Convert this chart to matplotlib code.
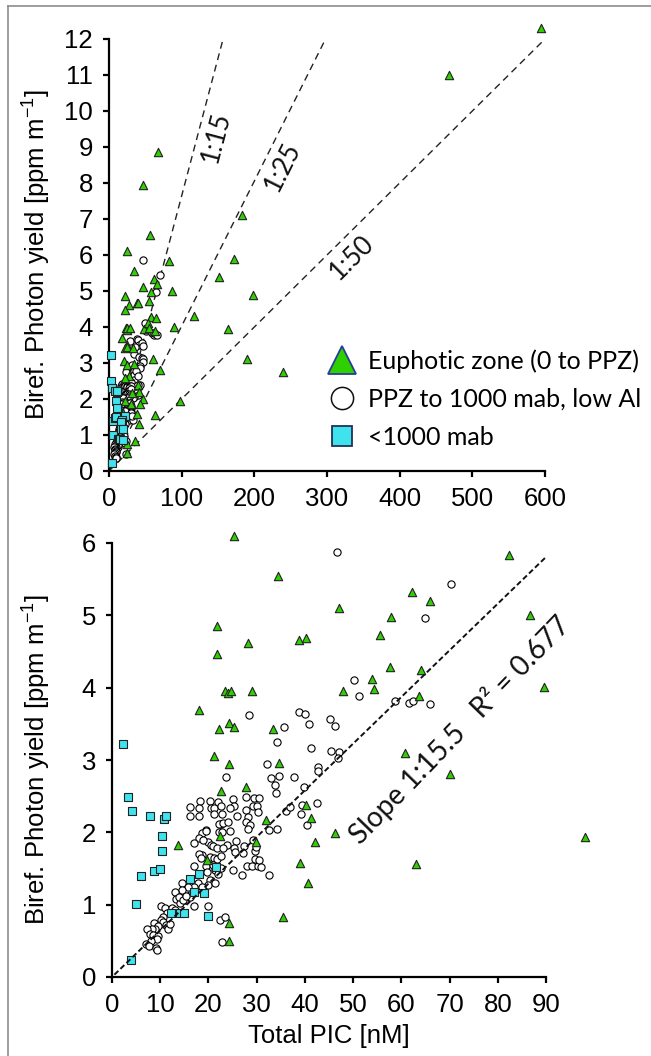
import numpy as np
import matplotlib
matplotlib.use("Agg")
import matplotlib.pyplot as plt
from matplotlib.lines import Line2D
from matplotlib.patches import Rectangle

# ---------------- data ----------------
# Euphotic zone (0 to PPZ)  -> green triangles
euph_x = [25.3, 34.4, 47.0, 21.7, 28.2, 38.8, 40.3, 21.7, 23.5, 24.1, 24.6, 29.0, 47.8, 18.0, 24.3,
          22.2, 25.4, 33.4, 21.2, 24.3, 34.7, 82.4, 62.2, 65.9, 57.9, 86.6, 55.6, 57.7, 64.0, 53.9,
          54.4, 63.6, 89.6, 60.7, 70.0, 46.2, 63.0, 98.1, 27.7, 22.7, 40.2, 41.2, 31.9, 22.3, 42.0,
          13.6, 29.8, 19.7, 38.9, 40.7, 35.5, 24.2, 24.2,
          117, 152, 164, 172, 183, 190, 198, 240, 468, 594, 67, 47, 57]
euph_y = [6.10, 5.55, 5.10, 4.85, 4.62, 4.66, 4.68, 4.46, 3.96, 3.93, 3.96, 3.96, 3.95, 3.69, 3.51,
          3.43, 3.45, 3.43, 3.06, 2.94, 2.96, 5.84, 5.32, 5.20, 4.98, 5.01, 4.73, 4.28, 4.24, 4.12,
          3.98, 3.88, 4.01, 3.10, 2.80, 1.99, 1.56, 1.94, 2.63, 2.57, 2.38, 2.20, 2.17, 1.95, 1.87,
          1.82, 1.87, 1.62, 1.57, 1.30, 0.83, 0.74, 0.50,
          4.3, 5.4, 3.95, 5.9, 7.1, 3.1, 4.9, 2.75, 11.0, 12.3, 8.85, 7.95, 6.55]

# PPZ to 1000 mab, low Al -> open circles
ppz_x = [46.6, 70.3, 65.0, 50.2, 51.2, 58.6, 61.6, 62.5, 66.0,
         28.4, 38.8, 40.1, 40.8, 35.6, 45.2, 46.3, 34.2, 41.3, 45.5, 47.0, 46.9, 32.2, 42.7, 42.8,
         23.7, 32.9, 34.6, 33.8, 37.8, 34.0, 39.8, 42.5, 39.4, 39.1, 40.4, 34.3, 36.1, 37.0, 32.6,
         16.1, 16.1, 18.3, 18.1, 18.1, 20.4, 20.6, 22.0, 21.2, 21.2, 22.6, 22.8, 25.0, 25.2, 24.5,
         27.8, 29.5, 30.4, 29.2, 30.0, 27.7, 26.0, 28.2, 30.2, 22.6, 22.1, 23.1, 24.1, 27.7, 28.6,
         28.2, 22.2, 22.8, 24.5, 19.4, 18.6, 19.5, 19.9, 20.5, 18.0, 18.9, 21.0, 21.8, 23.8, 23.0,
         25.7, 25.4, 25.6, 27.4, 27.1, 29.3, 29.7, 29.8, 25.0, 27.0, 27.9, 29.0, 30.3, 29.7, 32.6,
         18.7, 18.1, 18.4, 17.1, 17.1, 20.3, 21.2, 21.7, 19.5, 19.6, 21.0, 21.4, 21.9, 22.6, 22.6,
         20.3, 20.0, 21.4, 17.9, 18.6, 17.0, 15.8, 16.2, 14.6, 14.5, 13.1, 13.2, 15.1, 16.2, 17.1,
         14.1, 20.0, 10.1, 10.9, 12.4, 13.1, 11.4, 10.6, 10.2, 10.5, 8.7, 9.5, 11.1, 11.7, 12.0,
         9.0, 8.2, 7.2, 7.9, 8.6, 9.6, 9.3, 8.0, 7.1, 7.6, 9.1, 9.3, 22.3, 23.4, 22.9,
         13.8, 14.8, 15.3, 30.5, 31.0]
ppz_y = [5.87, 5.44, 4.96, 4.11, 3.89, 3.82, 3.79, 3.82, 3.77,
         3.62, 3.66, 3.64, 3.50, 3.45, 3.56, 3.47, 3.25, 3.16, 3.13, 3.11, 3.03, 2.95, 2.91, 2.85,
         2.76, 2.75, 2.78, 2.66, 2.77, 2.54, 2.63, 2.40, 2.38, 2.26, 2.10, 2.05, 2.29, 2.35, 2.03,
         2.35, 2.23, 2.43, 2.34, 2.22, 2.43, 2.33, 2.42, 2.33, 2.25, 2.36, 2.26, 2.46, 2.37, 2.33,
         2.49, 2.47, 2.48, 2.37, 2.36, 2.31, 2.23, 2.21, 2.28, 2.12, 2.12, 2.13, 2.14, 2.14, 2.10,
         2.05, 2.01, 2.00, 2.02, 2.03, 1.99, 2.02, 1.87, 1.83, 1.92, 1.89, 1.81, 1.79, 1.83, 1.78,
         1.88, 1.78, 1.73, 1.81, 1.71, 1.89, 1.74, 1.80, 1.48, 1.41, 1.53, 1.53, 1.53, 1.63, 1.41,
         1.69, 1.70, 1.65, 1.85, 1.53, 1.66, 1.64, 1.63, 1.53, 1.45, 1.55, 1.48, 1.42, 1.67, 1.51,
         1.34, 1.27, 1.30, 1.30, 1.24, 1.25, 1.25, 1.13, 1.30, 1.20, 1.17, 1.08, 1.07, 1.11, 0.98,
         1.02, 0.98, 0.98, 0.95, 0.95, 0.93, 0.89, 0.83, 0.79, 0.76, 0.74, 0.71, 0.72, 0.67, 0.73,
         0.66, 0.66, 0.66, 0.60, 0.58, 0.56, 0.53, 0.50, 0.46, 0.43, 0.40, 0.37, 0.79, 0.83, 0.48,
         1.10, 1.06, 1.12, 1.62, 1.52]

# <1000 mab -> cyan squares
deep_x = [2.35, 3.4, 4.2, 7.9, 10.8, 11.3, 10.3, 10.4, 6.0, 8.7, 10.0, 5.0, 21.5, 18.0, 16.1,
          17.0, 19.1, 12.2, 14.1, 14.9, 19.9, 3.9]
deep_y = [3.22, 2.49, 2.30, 2.23, 2.19, 2.23, 1.95, 1.74, 1.39, 1.47, 1.49, 1.01, 1.52, 1.43, 1.36,
          1.18, 1.16, 0.89, 0.89, 0.89, 0.85, 0.23]

legend_labels = ["Euphotic zone (0 to PPZ)", "PPZ to 1000 mab, low Al", "<1000 mab"]

# reference ratio lines in the top panel: label and PIC value where line reaches 12
ratio_labels = ["1:15", "1:25", "1:50"]
ratio_x_at_top = [157, 298, 600]
ratio_top_y = 12

# regression line, bottom panel
fit_slope = 1 / 15.5
fit_x_range = [0.5, 90]
fit_text = "Slope 1:15.5   R\u00b2 = 0.677"

top_xticks = [0, 100, 200, 300, 400, 500, 600]
top_yticks = list(range(0, 13))
bot_xticks = [0, 10, 20, 30, 40, 50, 60, 70, 80, 90]
bot_yticks = [0, 1, 2, 3, 4, 5, 6]

# ---------------- style ----------------
plt.rcParams['font.family'] = ['Liberation Sans', 'DejaVu Sans']
plt.rcParams['mathtext.fontset'] = 'custom'
plt.rcParams['mathtext.rm'] = 'Liberation Sans'
plt.rcParams['mathtext.it'] = 'Liberation Sans:italic'
plt.rcParams['mathtext.default'] = 'regular'

GREEN = '#2fd000'
CYAN = '#3fe3ee'
HUM = ['Lato', 'DejaVu Sans']

W, H = 651, 1056
fig = plt.figure(figsize=(W / 100, H / 100), dpi=100)

def px_axes(l, r, t, b):
    return [l / W, 1 - b / H, (r - l) / W, (b - t) / H]

ax1 = fig.add_axes(px_axes(109, 545, 39, 471))
ax2 = fig.add_axes(px_axes(112, 546, 543, 977))

def style(ax, xlim, ylim, xt, yt):
    ax.set_xlim(*xlim)
    ax.set_ylim(*ylim)
    ax.set_xticks(xt)
    ax.set_yticks(yt)
    for s in ['top', 'right']:
        ax.spines[s].set_visible(False)
    ax.spines['left'].set_bounds(*ylim)
    ax.spines['bottom'].set_bounds(*xlim)
    for s in ['left', 'bottom']:
        ax.spines[s].set_linewidth(1.6)
    ax.tick_params(direction='out', length=4.5, width=1.6, labelsize=18.5, pad=7)
    ax.patch.set_visible(False)

style(ax1, (0, 600), (0, 12), top_xticks, top_yticks)
style(ax2, (0, 90), (0, 6), bot_xticks, bot_yticks)

ylabel = 'Biref. Photon yield [ppm m$^{-1}$]'
ax1.set_ylabel(ylabel, fontsize=18.5)
ax1.yaxis.set_label_coords((53 - 109) / 436, 0.5)
ax2.set_ylabel(ylabel, fontsize=18.5)
ax2.yaxis.set_label_coords((53 - 112) / 434, 0.5)
ax2.set_xlabel('Total PIC [nM]', fontsize=18.5)
ax2.xaxis.set_label_coords(0.5, -(1024 - 977) / 434)

def scatter_all(ax, clip=None, lw=0.8):
    arts = []
    arts.append(ax.scatter(ppz_x, ppz_y, s=27, marker='o', facecolor='white',
                           edgecolor='black', linewidth=lw, zorder=3))
    arts.append(ax.scatter(euph_x, euph_y, s=36, marker='^', facecolor=GREEN,
                           edgecolor='#222222', linewidth=lw, zorder=4))
    arts.append(ax.scatter(deep_x, deep_y, s=26, marker='s', facecolor=CYAN,
                           edgecolor='#222222', linewidth=lw, zorder=5))
    for a in arts:
        if clip is None:
            a.set_clip_on(False)
        else:
            a.set_clip_path(clip)
    return arts

scatter_all(ax1)
clip_rect = Rectangle((-0.05, -0.05), 1.2, 1.11, transform=ax2.transAxes)
scatter_all(ax2, clip=clip_rect)

# ratio lines top panel
for lab, xe in zip(ratio_labels, ratio_x_at_top):
    ax1.plot([0, xe], [0, ratio_top_y], color='#222222', lw=1.0,
             dashes=(5, 3.5), zorder=2, clip_on=False)

fig.canvas.draw()
ratio_text_pos = [(148, 9.28), (239, 8.44), (334, 5.94)]
for lab, xe, (tx, ty) in zip(ratio_labels, ratio_x_at_top, ratio_text_pos):
    p0 = ax1.transData.transform((0, 0))
    p1 = ax1.transData.transform((xe, ratio_top_y))
    ang = np.degrees(np.arctan2(p1[1] - p0[1], p1[0] - p0[0]))
    ax1.text(tx, ty, lab, rotation=ang, rotation_mode='anchor', ha='center', va='center',
             fontsize=18.5, family=HUM, color='#111111')

# regression line bottom panel
fx = np.array(fit_x_range)
ax2.plot(fx, fx * fit_slope, color='#111111', lw=1.4, dashes=(2.8, 1.5), zorder=6)
ax2.text(72.0, 3.42, fit_text, rotation=46, rotation_mode='anchor', ha='center', va='center',
         fontsize=20.2, family=HUM, color='#111111')

# legend
handles = [
    Line2D([], [], ls='none', marker='^', ms=20, mfc=GREEN, mec='#2a3c9a', mew=1.3),
    Line2D([], [], ls='none', marker='o', ms=16, mfc='white', mec='#111111', mew=1.1),
    Line2D([], [], ls='none', marker='s', ms=14.5, mfc=CYAN, mec='#243052', mew=1.3),
]
ax1.legend(handles, legend_labels, loc='upper left',
           bbox_to_anchor=(329 / W, 1 - 349 / H), bbox_transform=fig.transFigure,
           frameon=False, prop={'family': HUM, 'size': 18}, handlelength=1.05,
           handletextpad=0.5, labelspacing=0.6, borderpad=0, borderaxespad=0)

# outer frame (cropped box)
fc = '#8c8c8c'
fig.add_artist(Line2D([8 / W, 8 / W], [0, 1 - 6 / H], transform=fig.transFigure, color=fc, lw=1.2))
fig.add_artist(Line2D([8 / W, 1], [1 - 6 / H, 1 - 6 / H], transform=fig.transFigure, color=fc, lw=1.2))

fig.savefig('out.png', dpi=100, facecolor='white')
